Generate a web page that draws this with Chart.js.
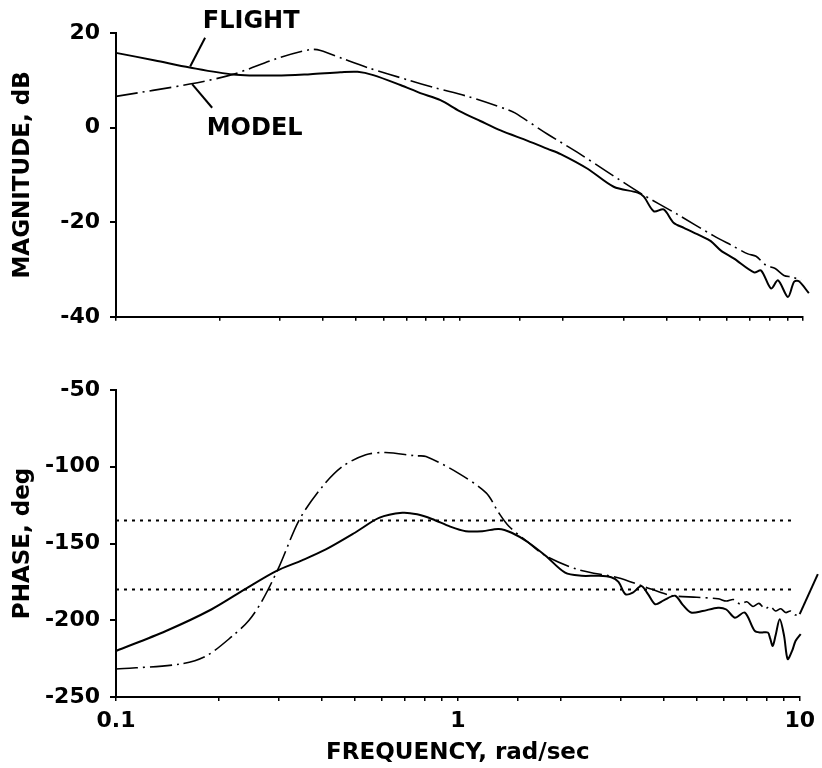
<!DOCTYPE html>
<html>
<head>
<meta charset="utf-8">
<title>Bode</title>
<script src="https://cdn.jsdelivr.net/npm/chart.js@4/dist/chart.umd.min.js"></script>
<style>
  body { margin: 0; background: #fff; }
  #wrap { position: relative; width: 822px; height: 768px; }
  canvas { position: absolute; left: 0; }
</style>
</head>
<body>
<div id="wrap">
  <canvas id="mag" width="822" height="340" style="top:0"></canvas>
  <canvas id="phase" width="822" height="428" style="top:340px"></canvas>
</div>
<script>
// magnitude, dB
const magFlightFreq = [0.1, 0.13, 0.164, 0.219, 0.294, 0.368, 0.45, 0.505, 0.561, 0.673, 0.769, 0.88, 1.0, 1.15, 1.317, 1.58, 1.806, 1.97, 2.36, 2.81, 3.3, 3.44, 3.68, 3.93, 4.2, 4.5, 5.04, 5.39, 5.77, 6.3, 7.2, 7.55, 8.07, 8.46, 9.04, 9.42, 9.73, 10.4];
const magFlight = [15.8, 14.2, 12.7, 11.25, 11.0, 11.3, 11.7, 11.8, 11.1, 9.0, 7.3, 5.8, 3.5, 1.4, -0.6, -2.8, -4.5, -5.6, -8.7, -12.5, -13.75, -14.6, -17.7, -17.3, -20.1, -21.2, -22.9, -24, -26, -27.7, -30.6, -30.2, -34, -32.3, -35.8, -32.6, -32.5, -35];
const magModelFreq = [0.1, 0.164, 0.219, 0.294, 0.368, 0.394, 0.46, 0.55, 0.706, 0.85, 1.055, 1.38, 1.45, 1.806, 2.2, 2.7, 3.37, 4.3, 5.5, 6.2, 6.91, 7.3, 7.8, 8.3, 8.8, 9.3, 9.86];
const magModel = [6.6, 9.2, 11.25, 14.6, 16.5, 16.3, 14.5, 12.5, 10.1, 8.4, 6.6, 3.8, 3.1, -1.4, -5.2, -9.4, -13.9, -18.3, -22.9, -24.9, -26.7, -27.2, -29.1, -29.8, -31.25, -31.6, -32.3];

// phase, deg
const phFlightFreq = [0.1, 0.14, 0.19, 0.24, 0.294, 0.35, 0.411, 0.5, 0.588, 0.688, 0.76, 0.84, 0.95, 1.055, 1.18, 1.317, 1.437, 1.6, 1.806, 2.06, 2.3, 2.58, 2.81, 2.95, 3.09, 3.25, 3.44, 3.6, 3.78, 4.0, 4.32, 4.55, 4.81, 5.2, 5.77, 6.1, 6.46, 6.91, 7.39, 7.7, 8.07, 8.2, 8.34, 8.5, 8.74, 9.0, 9.22, 9.5, 9.73, 10.07];
const phFlight = [-220, -207, -193, -179.4, -168, -161, -153.9, -143, -133.3, -130, -131, -134, -139, -142, -142, -140.5, -143, -149, -158, -169, -171, -171, -172, -175, -183, -182, -177.7, -183, -189.6, -187, -184, -190, -195, -194, -191.8, -193, -198.3, -195, -207, -208, -208, -212, -216.7, -210, -199.4, -210, -225.3, -220, -213.4, -209];
const phModelFreq = [0.1, 0.1537, 0.1838, 0.2198, 0.245, 0.269, 0.3006, 0.344, 0.402, 0.46, 0.538, 0.615, 0.753, 0.807, 1.0, 1.21, 1.317, 1.41, 1.6, 1.806, 2.25, 2.94, 3.5, 4.2, 5.0, 5.77, 6.1, 6.4, 6.7, 7.0, 7.3, 7.6, 7.9, 8.2, 8.5, 8.8, 9.1, 9.4, 9.7, 10.0];
const phModel = [-231.8, -228.6, -223.2, -210, -200, -186.4, -164.7, -134.4, -112.8, -99.8, -92.2, -90.7, -92.9, -93.3, -104, -117, -130, -138.8, -149, -158, -167, -172.3, -178, -183.8, -185, -186, -187.5, -186.5, -189.5, -188, -191, -189, -192.5, -191, -194, -192.5, -195, -194, -196.5, -196];
// solid tail past 10 rad/sec
const phTailFreq = [10.0, 11.3];
const phTail = [-196, -170];

const refLevels = [-135, -180];
const refFreq = [0.1, 9.75];
const decadeLabels = [0.1, 1, 10];

// callouts: text position, then leader line end points (freq, dB)
const callouts = [
  { text: 'FLIGHT', at: [0.2475, 22.4], leader: [[0.1817, 19.0], [0.1644, 12.9]] },
  { text: 'MODEL', at: [0.2533, -0.2], leader: [[0.1666, 9.2], [0.1905, 4.2]] }
];

const FONT = 'DejaVu Sans';
Chart.defaults.font.family = FONT;
Chart.defaults.color = '#000';

function pts(xs, ys) {
  return xs.map((x, i) => ({ x: x, y: ys[i] }));
}

const flightStyle = { borderColor: '#000', borderWidth: 2, pointRadius: 0, tension: 0.3, fill: false };
const modelStyle = { borderColor: '#000', borderWidth: 1.6, borderDash: [22, 5, 2, 5], pointRadius: 0, tension: 0.3, fill: false };

function xAxis(labels, height) {
  return {
    type: 'logarithmic',
    min: 0.1,
    max: 10,
    grid: { drawOnChartArea: false, color: '#000', lineWidth: 1.5, tickLength: 4 },
    border: { color: '#000', width: 2 },
    ticks: {
      display: labels,
      autoSkip: false,
      maxRotation: 0,
      padding: 7,
      font: { size: 22, weight: 'bold' },
      callback: v => decadeLabels.find(d => Math.abs(d - v) < 1e-9) !== undefined ? String(v) : ''
    },
    title: {
      display: labels,
      text: 'FREQUENCY, rad/sec',
      font: { size: 23, weight: 'bold' },
      padding: { top: 0, bottom: 1 }
    },
    afterFit: s => { s.height = height; }
  };
}

function yAxis(min, max, step, title) {
  return {
    min: min,
    max: max,
    grid: { drawOnChartArea: false, color: '#000', lineWidth: 2, tickLength: 6 },
    border: { color: '#000', width: 2 },
    ticks: { stepSize: step, padding: 10, font: { size: 22, weight: 'bold' } },
    title: { display: true, text: title, font: { size: 23, weight: 'bold' }, padding: { top: 9, bottom: 0 } },
    afterFit: s => { s.width = 116; }
  };
}

const calloutPlugin = {
  id: 'callouts',
  afterDatasetsDraw(chart) {
    const ctx = chart.ctx;
    const xs = chart.scales.x, ys = chart.scales.y;
    ctx.save();
    ctx.strokeStyle = '#000';
    ctx.lineWidth = 2;
    ctx.fillStyle = '#000';
    ctx.font = 'bold 24px ' + FONT;
    ctx.textAlign = 'center';
    ctx.textBaseline = 'middle';
    callouts.forEach(c => {
      ctx.beginPath();
      ctx.moveTo(xs.getPixelForValue(c.leader[0][0]), ys.getPixelForValue(c.leader[0][1]));
      ctx.lineTo(xs.getPixelForValue(c.leader[1][0]), ys.getPixelForValue(c.leader[1][1]));
      ctx.stroke();
      ctx.fillText(c.text, xs.getPixelForValue(c.at[0]), ys.getPixelForValue(c.at[1]));
    });
    ctx.restore();
  }
};

new Chart(document.getElementById('mag'), {
  type: 'line',
  data: {
    datasets: [
      Object.assign({ label: 'FLIGHT', data: pts(magFlightFreq, magFlight), clip: false }, flightStyle),
      Object.assign({ label: 'MODEL', data: pts(magModelFreq, magModel), clip: false }, modelStyle)
    ]
  },
  options: {
    responsive: false,
    animation: false,
    layout: { padding: { top: 33, right: 19, left: 0, bottom: 0 } },
    plugins: { legend: { display: false }, tooltip: { enabled: false } },
    scales: {
      x: xAxis(false, 19),
      y: yAxis(-40, 20, 20, 'MAGNITUDE, dB')
    }
  },
  plugins: [calloutPlugin]
});

new Chart(document.getElementById('phase'), {
  type: 'line',
  data: {
    datasets: [
      Object.assign({ label: 'FLIGHT', data: pts(phFlightFreq, phFlight), clip: false }, flightStyle),
      Object.assign({ label: 'MODEL', data: pts(phModelFreq, phModel), clip: false }, modelStyle),
      {
        label: 'MODEL tail',
        data: pts(phTailFreq, phTail),
        clip: false,
        borderColor: '#000',
        borderWidth: 2,
        pointRadius: 0,
        fill: false
      },
      ...refLevels.map(l => ({
        label: String(l),
        data: pts(refFreq, [l, l]),
        borderColor: '#000',
        borderWidth: 2,
        borderDash: [3, 5],
        pointRadius: 0,
        fill: false
      }))
    ]
  },
  options: {
    responsive: false,
    animation: false,
    layout: { padding: { top: 50, right: 19, left: 0, bottom: 0 } },
    plugins: { legend: { display: false }, tooltip: { enabled: false } },
    scales: {
      x: xAxis(true, 71),
      y: yAxis(-250, -50, 50, 'PHASE, deg')
    }
  }
});
</script>
</body>
</html>
